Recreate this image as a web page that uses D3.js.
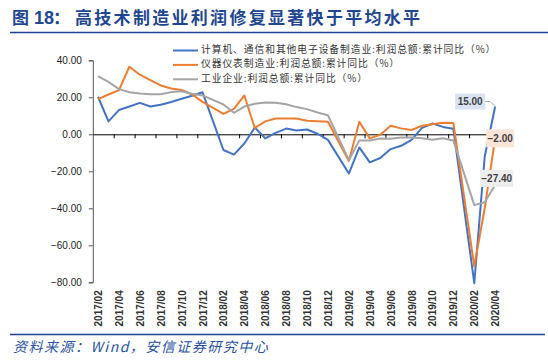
<!DOCTYPE html>
<html>
<head>
<meta charset="utf-8">
<script src="https://cdn.jsdelivr.net/npm/d3@7"></script>
<style>
  body { margin: 0; background: #fff; }
  svg { display: block; }
</style>
</head>
<body>
<div id="chart"></div>
<script>
// months on the date axis (January has no cumulative figure, so it is null below)
const months = [
  "2017/02","2017/03","2017/04","2017/05","2017/06","2017/07","2017/08","2017/09","2017/10","2017/11","2017/12",
  "2018/01","2018/02","2018/03","2018/04","2018/05","2018/06","2018/07","2018/08","2018/09","2018/10","2018/11","2018/12",
  "2019/01","2019/02","2019/03","2019/04","2019/05","2019/06","2019/07","2019/08","2019/09","2019/10","2019/11","2019/12",
  "2020/01","2020/02","2020/03","2020/04"
];

const seriesNames = [
  "计算机、通信和其他电子设备制造业:利润总额:累计同比（%）",
  "仪器仪表制造业:利润总额:累计同比（%）",
  "工业企业:利润总额:累计同比（%）"
];

const electronics = [
  20.3, 7.0, 13.1, 15.0, 17.0, 15.0, 16.0, 17.5, 19.2, 20.8, 22.7,
  null, -8.5, -11.0, -5.0, 3.7, -2.2, 0.8, 3.1, 2.0, 2.6, 0.3, -3.0,
  null, -21.2, -7.1, -15.2, -12.8, -8.0, -6.2, -3.0, 3.5, 5.8, 4.0, 3.0,
  null, -80.5, -12.0, 15.0
];

const instruments = [
  19.0, 21.5, 23.9, 36.5, 32.2, 29.3, 26.4, 24.8, 24.0, 21.5, 17.5,
  null, 11.0, 13.7, 21.0, 3.4, 7.0, 8.5, 8.6, 8.5, 7.3, 7.1, 6.8,
  null, -14.4, 6.8, -2.2, -0.3, 4.6, 3.2, 2.3, 4.6, 5.4, 6.2, 6.1,
  null, -71.4, -40.0, -2.0
];

const industry = [
  31.5, 28.3, 24.4, 22.7, 22.0, 21.6, 21.6, 22.8, 23.3, 21.9, 21.0,
  null, 16.1, 11.6, 15.0, 16.5, 17.2, 17.1, 16.2, 14.7, 13.6, 11.8, 10.3,
  null, -14.0, -3.3, -3.4, -2.3, -2.4, -1.7, -1.7, -2.1, -2.9, -2.1, -3.3,
  null, -38.3, -36.7, -27.4
];

const yTicks = [40, 20, 0, -20, -40, -60, -80];

const colors = ["#4472c4", "#ed7d31", "#a5a5a5"];
const labelFills = ["#dae3f3", "#fbe5d6", "#ededed"];

const width = 548, height = 360;
const margin = { top: 60.3, bottom: 77.7, left: 92.8, right: 47.6 };

const svg = d3.select("#chart")
  .append("svg")
  .attr("width", width)
  .attr("height", height)
  .style("background", "#fff");

// title
const title = svg.append("text")
  .attr("y", 24)
  .attr("fill", "#1f4690")
  .style("font-weight", "bold")
  .style("font-family", "'Noto Sans CJK SC', sans-serif");
title.append("tspan").attr("x", 12).style("font-size", "17px").text("图");
title.append("tspan").attr("x", 34).style("font-size", "18px")
  .style("font-family", "'Liberation Sans', Arial, sans-serif").text("18");
title.append("tspan").attr("x", 53).style("font-size", "17px").text("：");
title.append("tspan").attr("x", 75).style("font-size", "17px")
  .style("letter-spacing", "2.3px").text("高技术制造业利润修复显著快于平均水平");

svg.append("line")
  .attr("x1", 10).attr("x2", 548)
  .attr("y1", 32.5).attr("y2", 32.5)
  .attr("stroke", "#1f3f8f").attr("stroke-width", 1.3);

// scales
const x = d3.scaleLinear()
  .domain([0, months.length])
  .range([margin.left, width - margin.right]);

const y = d3.scaleLinear()
  .domain([-80, 40])
  .range([height - margin.bottom, margin.top]);

// y axis
const yAxis = svg.append("g")
  .attr("transform", `translate(${margin.left},0)`)
  .call(d3.axisLeft(y).tickValues(yTicks).tickSize(4).tickPadding(7).tickFormat(d3.format(".2f")));
yAxis.select(".domain").attr("stroke", "#555");
yAxis.selectAll(".tick line").attr("stroke", "#555");
yAxis.selectAll("text")
  .style("font-family", "'Liberation Sans', Arial, sans-serif")
  .style("font-size", "10px")
  .attr("fill", "#222");

// x axis line at zero, tick marks between every second month
const tickIdx = d3.range(2, months.length, 2);
const xAxis = svg.append("g")
  .attr("transform", `translate(0,${y(0)})`)
  .call(d3.axisBottom(x).tickValues(tickIdx).tickSize(4).tickSizeOuter(0).tickFormat(""));
xAxis.select(".domain").attr("stroke", "#000");
xAxis.selectAll(".tick line").attr("stroke", "#000");

// month labels at the bottom
const labelIdx = d3.range(0, months.length, 2).map(i => i + 0.5);
const xLabels = svg.append("g")
  .attr("transform", `translate(0,${y(-80)})`)
  .call(d3.axisBottom(x).tickValues(labelIdx).tickSize(0).tickFormat(d => months[d - 0.5]));
xLabels.select(".domain").remove();
xLabels.selectAll("text")
  .attr("transform", "rotate(-90)")
  .attr("x", -8)
  .attr("y", 0)
  .attr("dy", "0.35em")
  .style("text-anchor", "end")
  .style("font-family", "'Liberation Sans', Arial, sans-serif")
  .style("font-size", "10px")
  .style("font-weight", "bold")
  .attr("fill", "#333");

// lines
const allSeries = [electronics, instruments, industry];
const line = d3.line()
  .x(d => x(d.i + 0.5))
  .y(d => y(d.v));

allSeries.forEach((vals, k) => {
  const pts = vals.map((v, i) => ({ i, v })).filter(d => d.v !== null);
  svg.append("path")
    .datum(pts)
    .attr("fill", "none")
    .attr("stroke", colors[k])
    .attr("stroke-width", 2)
    .attr("stroke-linejoin", "round")
    .attr("d", line);
});

// end-of-line data labels
const last = months.length - 1;
const labelOffsets = [
  { dx: -25, dy: -5, w: 30, h: 16 },
  { dx: 5, dy: 0.3, w: 28, h: 18 },
  { dx: 1.5, dy: -6.5, w: 33, h: 17 }
];

// leader line for the first label
const bx = x(last + 0.5), by = y(electronics[last]);
svg.append("polyline")
  .attr("points", `${bx - 10},${by - 5} ${bx - 5},${by - 5} ${bx - 0.5},${by - 0.5}`)
  .attr("fill", "none")
  .attr("stroke", "#a5a5a5")
  .attr("stroke-width", 1);

allSeries.forEach((vals, k) => {
  const o = labelOffsets[k];
  const cx = x(last + 0.5) + o.dx;
  const cy = y(vals[last]) + o.dy;
  svg.append("rect")
    .attr("x", cx - o.w / 2)
    .attr("y", cy - o.h / 2)
    .attr("width", o.w)
    .attr("height", o.h)
    .attr("fill", labelFills[k]);
  svg.append("text")
    .attr("x", cx)
    .attr("y", cy)
    .attr("dy", "0.35em")
    .style("text-anchor", "middle")
    .style("font-family", "'Liberation Sans', Arial, sans-serif")
    .style("font-size", "10px")
    .style("font-weight", "bold")
    .attr("fill", "#404040")
    .text(d3.format(".2f")(vals[last]));
});

// legend
const legend = svg.selectAll(".legend")
  .data(seriesNames)
  .enter().append("g")
  .attr("class", "legend")
  .attr("transform", (d, i) => `translate(173, ${50.5 + i * 14.4})`);

legend.append("line")
  .attr("x1", 0).attr("x2", 25)
  .attr("y1", 0).attr("y2", 0)
  .attr("stroke", (d, i) => colors[i])
  .attr("stroke-width", 2);

legend.append("text")
  .attr("x", 28)
  .attr("y", -1)
  .attr("dy", "0.35em")
  .style("font-family", "'Noto Sans CJK SC', sans-serif")
  .style("font-size", "9.8px")
  .style("letter-spacing", "0.9px")
  .attr("fill", "#333")
  .text(d => d);

// source
svg.append("line")
  .attr("x1", 10).attr("x2", 545)
  .attr("y1", 334.5).attr("y2", 334.5)
  .attr("stroke", "#1f3f8f").attr("stroke-width", 1.3);

svg.append("text")
  .attr("x", 13)
  .attr("y", 352)
  .style("font-family", "'Noto Sans CJK SC', sans-serif")
  .style("font-size", "14px")
  .style("font-style", "italic")
  .style("letter-spacing", "1.5px")
  .attr("fill", "#2a52a0")
  .text("资料来源：Wind，安信证券研究中心");
</script>
</body>
</html>
